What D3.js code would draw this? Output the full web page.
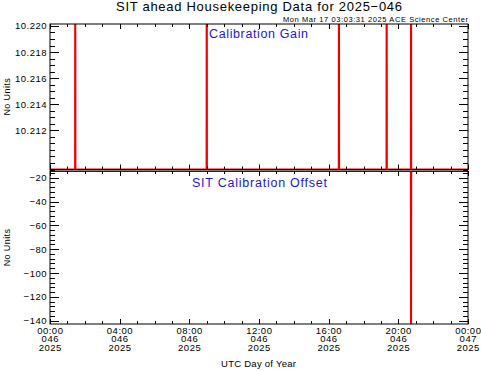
<!DOCTYPE html>
<html>
<head>
<meta charset="utf-8">
<script src="https://cdn.jsdelivr.net/npm/d3@7"></script>
<style>
  body { margin: 0; background: #fff; }
  svg { display: block; font-family: "Liberation Sans", Arial, sans-serif; }
</style>
</head>
<body>
<div id="chart"></div>
<script>
// hours of day 046 (2025)
var gainHours  = [0, 1.44, 1.45, 1.46, 8.99, 9.0, 9.01, 16.58, 16.59, 16.60, 19.32, 19.33, 19.34, 20.72, 20.73, 20.74, 24];
var gainValues = [10.2090, 10.2090, 10.2300, 10.2090, 10.2090, 10.2300, 10.2090, 10.2090, 10.2300, 10.2090,
                  10.2090, 10.2300, 10.2090, 10.2090, 10.2300, 10.2090, 10.2090];
var offsetHours  = [0, 20.72, 20.73, 20.74, 24];
var offsetValues = [-14.4, -14.4, -160, -14.4, -14.4];

var xTickHours = [0, 4, 8, 12, 16, 20, 24];
var xTickTime  = ["00:00", "04:00", "08:00", "12:00", "16:00", "20:00", "00:00"];
var xTickDay   = ["046", "046", "046", "046", "046", "046", "047"];
var xTickYear  = ["2025", "2025", "2025", "2025", "2025", "2025", "2025"];
var gainTicks   = [10.212, 10.214, 10.216, 10.218, 10.220];
var offsetTicks = [-140, -120, -100, -80, -60, -40, -20];

var W = 481, H = 371;
var LEFT = 50, RIGHT = 468;

var svg = d3.select("#chart").append("svg")
    .attr("width", W)
    .attr("height", H);

var x = d3.scaleLinear().domain([0, 24]).range([LEFT, RIGHT]);
var minorHours = d3.range(0, 25, 1);

function drawPanel(cfg) {
    var y = d3.scaleLinear().domain(cfg.domain).range([cfg.bottom, cfg.top]);
    var g = svg.append("g");
    var clipId = "clip" + cfg.name;

    svg.append("clipPath").attr("id", clipId)
        .append("rect")
        .attr("x", LEFT).attr("y", cfg.top)
        .attr("width", RIGHT - LEFT).attr("height", cfg.bottom - cfg.top);

    // data line
    var line = d3.line()
        .x(function(d) { return x(d[0]); })
        .y(function(d) { return y(d[1]); });
    g.append("path")
        .datum(d3.zip(cfg.hours, cfg.values))
        .attr("clip-path", "url(#" + clipId + ")")
        .attr("fill", "none")
        .attr("stroke", "#ee0000")
        .attr("stroke-width", 2)
        .attr("d", line);

    // frame
    g.append("rect")
        .attr("x", LEFT).attr("y", cfg.top)
        .attr("width", RIGHT - LEFT).attr("height", cfg.bottom - cfg.top)
        .attr("fill", "none")
        .attr("stroke", "#000")
        .attr("stroke-width", 1);

    // y ticks, left and right
    var minorY = d3.range(cfg.minorStart, cfg.domain[1], cfg.minorStep)
        .filter(function(v) { return v >= cfg.domain[0]; });
    [[LEFT, 1], [RIGHT, -1]].forEach(function(side) {
        g.selectAll(null).data(minorY).enter().append("line")
            .attr("x1", side[0]).attr("x2", side[0] + side[1] * 5)
            .attr("y1", function(d) { return Math.round(y(d)) + 0.5; })
            .attr("y2", function(d) { return Math.round(y(d)) + 0.5; })
            .attr("stroke", "#000");
        g.selectAll(null).data(cfg.ticks).enter().append("line")
            .attr("x1", side[0]).attr("x2", side[0] + side[1] * 9)
            .attr("y1", function(d) { return Math.round(y(d)) + 0.5; })
            .attr("y2", function(d) { return Math.round(y(d)) + 0.5; })
            .attr("stroke", "#000");
    });
    g.selectAll(null).data(cfg.ticks).enter().append("text")
        .attr("x", LEFT - 3)
        .attr("y", function(d) { return y(d) + 3.5; })
        .attr("text-anchor", "end")
        .attr("font-size", "9.5px")
        .attr("letter-spacing", "0.5px")
        .text(function(d) { return cfg.fmt(d).replace("-", "\u2212"); });

    // x ticks, top and bottom
    [[cfg.top, 1], [cfg.bottom, -1]].forEach(function(side) {
        g.selectAll(null).data(minorHours).enter().append("line")
            .attr("x1", function(d) { return Math.round(x(d)) + 0.5; })
            .attr("x2", function(d) { return Math.round(x(d)) + 0.5; })
            .attr("y1", side[0])
            .attr("y2", function(d) { return side[0] + side[1] * (d % 4 === 0 ? 5 : 3); })
            .attr("stroke", "#000");
    });

    // y label
    g.append("text")
        .attr("transform", "translate(10," + ((cfg.top + cfg.bottom) / 2) + ") rotate(-90)")
        .attr("text-anchor", "middle")
        .attr("font-size", "9px")
        .attr("letter-spacing", "0.4px")
        .text("No Units");

    // panel title
    g.append("text")
        .attr("x", cfg.labelX)
        .attr("y", cfg.top + cfg.labelDy)
        .attr("fill", "#1a1acc")
        .attr("font-size", "12.5px")
        .attr("textLength", cfg.labelW)
        .attr("lengthAdjust", "spacing")
        .text(cfg.label);

    return y;
}

drawPanel({
    name: "gain",
    top: 24, bottom: 169.5,
    domain: [10.2090, 10.22015],
    hours: gainHours, values: gainValues,
    ticks: gainTicks, minorStart: 10.2090, minorStep: 0.0005,
    fmt: d3.format(".3f"),
    label: "Calibration Gain", labelX: 209, labelW: 99, labelDy: 13.5
});

drawPanel({
    name: "offset",
    top: 171, bottom: 324,
    domain: [-142.8, -14.4],
    hours: offsetHours, values: offsetValues,
    ticks: offsetTicks, minorStart: -140, minorStep: 4,
    fmt: d3.format("d"),
    label: "SIT Calibration Offset", labelX: 192, labelW: 135, labelDy: 16
});

// x tick labels, three rows
var xl = svg.append("g")
    .attr("font-size", "9.5px")
    .attr("letter-spacing", "0.5px")
    .attr("text-anchor", "middle");
[[xTickTime, 333.5], [xTickDay, 342.3], [xTickYear, 350.8]].forEach(function(row) {
    xl.selectAll(null).data(xTickHours).enter().append("text")
        .attr("x", function(d) { return x(d) + 0.3; })
        .attr("y", row[1])
        .text(function(d, i) { return row[0][i]; });
});

svg.append("text")
    .attr("x", 221).attr("y", 366.5)
    .attr("font-size", "9.5px")
    .attr("textLength", 75)
    .attr("lengthAdjust", "spacing")
    .text("UTC Day of Year");

// titles
svg.append("text")
    .attr("x", 116).attr("y", 11)
    .attr("font-size", "13px")
    .attr("textLength", 286)
    .attr("lengthAdjust", "spacing")
    .text("SIT ahead Housekeeping Data for 2025\u2212046");

svg.append("text")
    .attr("x", 283).attr("y", 21.5)
    .attr("font-size", "7.5px")
    .attr("textLength", 185)
    .attr("lengthAdjust", "spacing")
    .text("Mon Mar 17 03:03:31 2025 ACE Science Center");
</script>
</body>
</html>
